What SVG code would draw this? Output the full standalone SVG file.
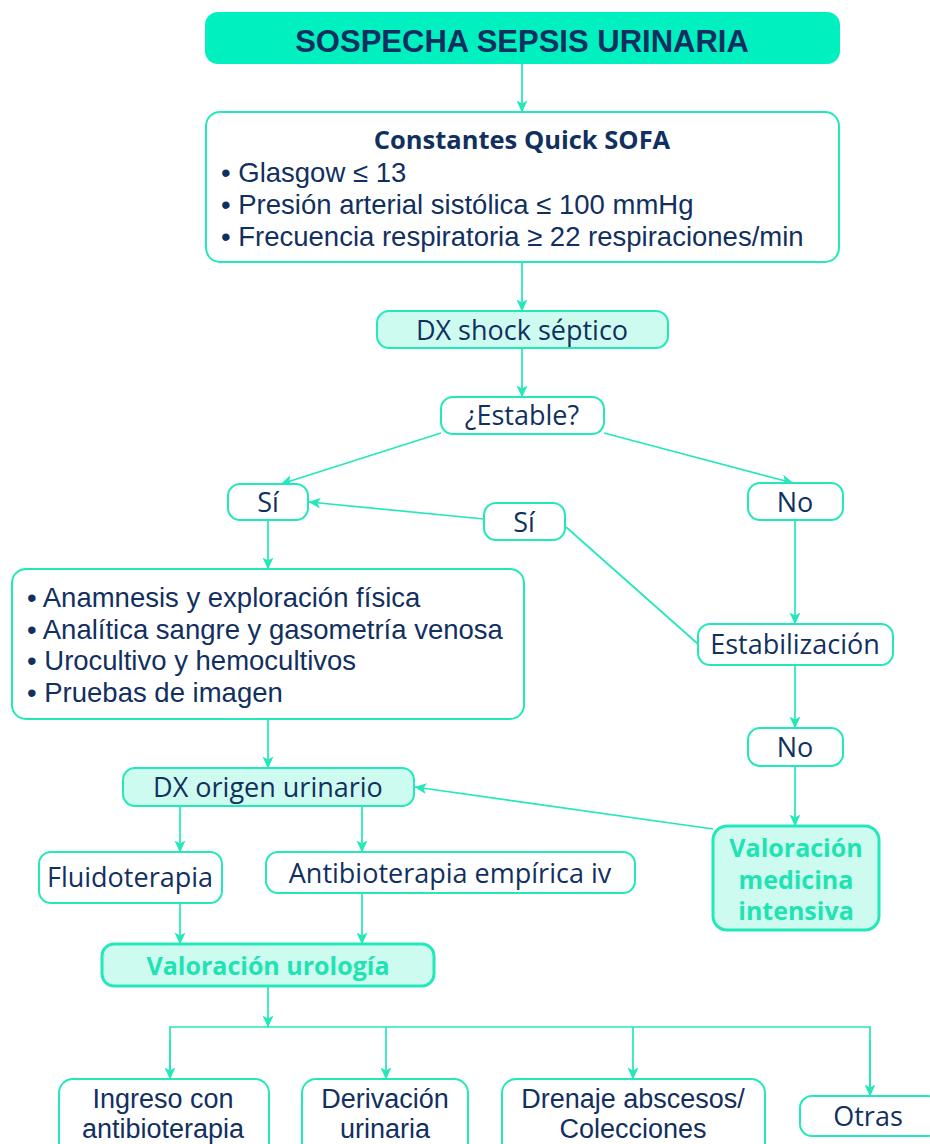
<svg xmlns="http://www.w3.org/2000/svg" width="930" height="1144" viewBox="0 0 930 1144">
<style>
.box{fill:#ffffff;stroke:#22E8BA;stroke-width:2}
.mint{fill:#CEFBEF;stroke:#22E8BA;stroke-width:2}
.mintb{fill:#CEFBEF;stroke:#22E8BA;stroke-width:3}
.t{font-family:"Open Sans","Liberation Sans",sans-serif;font-size:27px;fill:#12305F}
.l{font-family:"Liberation Sans",sans-serif;font-size:27.5px}
.s{font-family:"Liberation Sans",sans-serif;font-size:27px}
.c{text-anchor:middle}
.b{font-weight:bold}
.g{fill:#1FE3B2;font-weight:bold;font-size:25px}
.con{fill:none;stroke:#22E8BA;stroke-width:1.7}
</style>
<defs>
<marker id="ah" viewBox="0 0 12 12" refX="11.5" refY="6" markerWidth="12" markerHeight="12" orient="auto" markerUnits="userSpaceOnUse">
<path d="M0,0.5 L12,6 L0,11.5 L3,6 z" fill="#22E8BA"/>
</marker>
</defs>
<g id="connectors">
<line class="con" x1="522" y1="64" x2="522" y2="112" marker-end="url(#ah)"/>
<line class="con" x1="522" y1="262" x2="522" y2="311" marker-end="url(#ah)"/>
<line class="con" x1="522" y1="348" x2="522" y2="397" marker-end="url(#ah)"/>
<line class="con" x1="441" y1="433" x2="281" y2="484" marker-end="url(#ah)"/>
<line class="con" x1="604" y1="433" x2="793" y2="483" marker-end="url(#ah)"/>
<line class="con" x1="484" y1="519" x2="309" y2="502" marker-end="url(#ah)"/>
<line class="con" x1="566" y1="527" x2="698" y2="644"/>
<line class="con" x1="795" y1="520" x2="795" y2="624" marker-end="url(#ah)"/>
<line class="con" x1="795" y1="665" x2="795" y2="728" marker-end="url(#ah)"/>
<line class="con" x1="795" y1="766" x2="795" y2="826" marker-end="url(#ah)"/>
<line class="con" x1="713" y1="829" x2="415" y2="787" marker-end="url(#ah)"/>
<line class="con" x1="268" y1="520" x2="268" y2="569" marker-end="url(#ah)"/>
<line class="con" x1="268" y1="719" x2="268" y2="768" marker-end="url(#ah)"/>
<line class="con" x1="180" y1="806" x2="180" y2="852" marker-end="url(#ah)"/>
<line class="con" x1="362" y1="806" x2="362" y2="852" marker-end="url(#ah)"/>
<line class="con" x1="180" y1="893" x2="180" y2="944" marker-end="url(#ah)"/>
<line class="con" x1="362" y1="893" x2="362" y2="944" marker-end="url(#ah)"/>
<line class="con" x1="268" y1="986" x2="268" y2="1027" marker-end="url(#ah)"/>
<polyline class="con" points="170,1078 170,1027 870,1027 870,1096"/>
<line class="con" x1="170" y1="1040" x2="170" y2="1079" marker-end="url(#ah)"/>
<line class="con" x1="386" y1="1027" x2="386" y2="1079" marker-end="url(#ah)"/>
<line class="con" x1="633" y1="1027" x2="633" y2="1079" marker-end="url(#ah)"/>
<line class="con" x1="870" y1="1040" x2="870" y2="1096" marker-end="url(#ah)"/>
</g>
<g id="n-title">
<rect x="205" y="12" width="635" height="52" rx="13" fill="#00F0C0"/>
<text class="t c b" x="522" y="52" style="font-family:'Liberation Sans',sans-serif;font-size:31px">SOSPECHA SEPSIS URINARIA</text>
</g>
<g id="n-qsofa">
<rect class="box" x="206" y="112" width="633" height="150" rx="14"/>
<text class="t c b" x="522" y="149" style="font-size:25.5px">Constantes Quick SOFA</text>
<text class="t l" x="221" y="182">• Glasgow ≤ 13</text>
<text class="t l" x="221" y="214">• Presión arterial sistólica ≤ 100 mmHg</text>
<text class="t l" x="221" y="246">• Frecuencia respiratoria ≥ 22 respiraciones/min</text>
</g>
<g id="n-dxshock">
<rect class="mint" x="377" y="311" width="291" height="37" rx="12"/>
<text class="t c" x="522" y="340">DX shock séptico</text>
</g>
<g id="n-estable">
<rect class="box" x="441" y="397" width="163" height="37" rx="12"/>
<text class="t c" x="522" y="425">¿Estable?</text>
</g>
<g id="n-si1">
<rect class="box" x="228" y="484" width="80" height="36" rx="12"/>
<text class="t c" x="268" y="512">Sí</text>
</g>
<g id="n-no1">
<rect class="box" x="748" y="483" width="95" height="37" rx="12"/>
<text class="t c" x="795" y="512">No</text>
</g>
<g id="n-si2">
<rect class="box" x="484" y="503" width="81" height="37" rx="12"/>
<text class="t c" x="524" y="532">Sí</text>
</g>
<g id="n-estabilizacion">
<rect class="box" x="698" y="624" width="195" height="41" rx="12"/>
<text class="t c" x="795" y="654">Estabilización</text>
</g>
<g id="n-no2">
<rect class="box" x="748" y="728" width="95" height="38" rx="12"/>
<text class="t c" x="795" y="757">No</text>
</g>
<g id="n-uci">
<rect class="mintb" x="713" y="826" width="166" height="104" rx="14"/>
<text class="t c g" x="796" y="857">Valoración</text>
<text class="t c g" x="796" y="889">medicina</text>
<text class="t c g" x="796" y="920">intensiva</text>
</g>
<g id="n-pruebas">
<rect class="box" x="12" y="569" width="512" height="150" rx="14"/>
<text class="t l" x="27" y="607">• Anamnesis y exploración física</text>
<text class="t l" x="27" y="638.5">• Analítica sangre y gasometría venosa</text>
<text class="t l" x="27" y="670">• Urocultivo y hemocultivos</text>
<text class="t l" x="27" y="701.5">• Pruebas de imagen</text>
</g>
<g id="n-dxorigen">
<rect class="mint" x="123" y="768" width="291" height="38" rx="12"/>
<text class="t c" x="268" y="797">DX origen urinario</text>
</g>
<g id="n-fluido">
<rect class="box" x="39" y="852" width="183" height="51" rx="12"/>
<text class="t c" x="130" y="887">Fluidoterapia</text>
</g>
<g id="n-antibio">
<rect class="box" x="266" y="852" width="369" height="41" rx="12"/>
<text class="t c" x="450" y="883">Antibioterapia empírica iv</text>
</g>
<g id="n-urologia">
<rect class="mintb" x="102" y="944" width="332" height="42" rx="12"/>
<text class="t c g" x="268" y="975">Valoración urología</text>
</g>
<g id="n-ingreso">
<rect class="box" x="59" y="1079" width="210" height="80" rx="14"/>
<text class="t s c" x="163" y="1108">Ingreso con</text>
<text class="t s c" x="163" y="1138">antibioterapia</text>
</g>
<g id="n-derivacion">
<rect class="box" x="302" y="1079" width="166" height="80" rx="14"/>
<text class="t s c" x="385" y="1108">Derivación</text>
<text class="t s c" x="385" y="1138">urinaria</text>
</g>
<g id="n-drenaje">
<rect class="box" x="502" y="1079" width="263" height="80" rx="14"/>
<text class="t s c" x="633" y="1108">Drenaje abscesos/</text>
<text class="t s c" x="633" y="1138">Colecciones</text>
</g>
<g id="n-otras">
<rect class="box" x="800" y="1096" width="140" height="40" rx="12"/>
<text class="t c" x="868" y="1126">Otras</text>
</g>
</svg>
